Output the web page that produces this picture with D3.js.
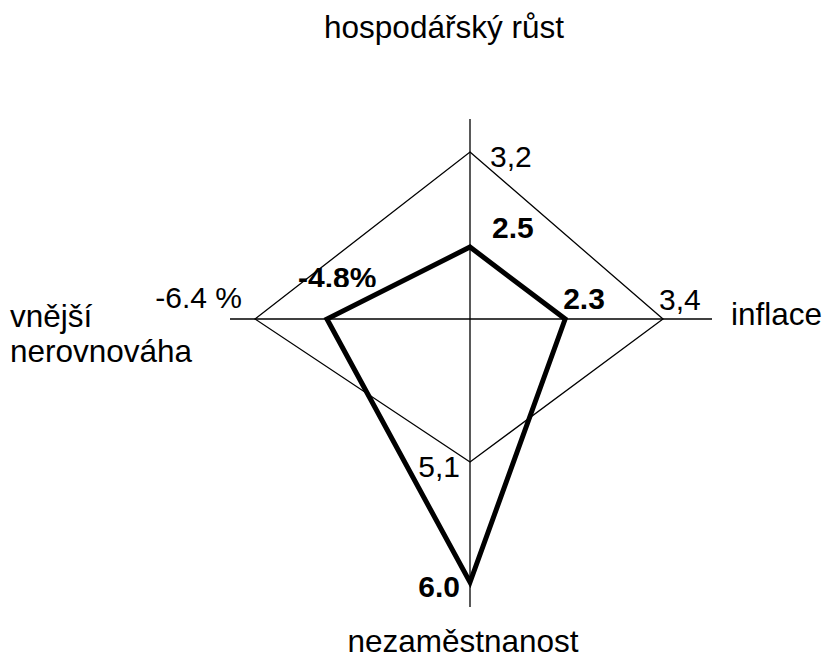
<!DOCTYPE html>
<html>
<head>
<meta charset="utf-8">
<script src="https://cdn.jsdelivr.net/npm/d3@7"></script>
<style>
  body { margin: 0; background: #fff; }
  text { font-family: "Liberation Sans", Arial, sans-serif; fill: #000; }
  .axis-title { font-size: 31.5px; }
  .ref-label { font-size: 30px; }
  .val-label { font-size: 30px; font-weight: bold; }
</style>
</head>
<body>
<div id="chart"></div>
<script>
// axes: growth (up), inflation (right), unemployment (down), external imbalance (left)
const axisKeys = ['growth', 'inflation', 'unemployment', 'external'];
const axisTitles = [['hospodářský růst'], ['inflace'], ['nezaměstnanost'], ['vnější', 'nerovnováha']];
const refValues = [3.2, 3.4, 5.1, -6.4];
const refLabels = ['3,2', '3,4', '5,1', '-6.4 %'];
const actualValues = [2.5, 2.3, 6.0, -4.8];
const actualLabels = ['2.5', '2.3', '6.0', '-4.8%'];
// value sitting at the centre of each axis (the square is not zero-based)
const axisOrigins = [1.97, 1.23, 4.03, -1.62];

class MagicSquare {

  constructor(_config) {
    this.config = {
      parentElement: _config.parentElement,
      containerWidth: _config.containerWidth || 824,
      containerHeight: _config.containerHeight || 668,
      center: {x: 470, y: 319},
      // pixel length of each axis at the reference value
      refRadius: [167, 193, 143, 215],
      axisExtent: {top: 200, right: 242, bottom: 288, left: 240}
    }
    this.initVis();
  }

  initVis() {
    let vis = this;
    const c = vis.config.center;

    vis.svg = d3.select(vis.config.parentElement).append('svg')
        .attr('width', vis.config.containerWidth)
        .attr('height', vis.config.containerHeight);

    // unit direction per axis
    vis.dirs = [[0, -1], [1, 0], [0, 1], [-1, 0]];

    vis.scales = axisKeys.map((k, i) => d3.scaleLinear()
        .domain([axisOrigins[i], refValues[i]])
        .range([0, vis.config.refRadius[i]]));

    vis.point = (i, v) => [c.x + vis.dirs[i][0] * vis.scales[i](v), c.y + vis.dirs[i][1] * vis.scales[i](v)];

    // cross lines
    const ext = vis.config.axisExtent;
    vis.svg.append('line')
        .attr('x1', c.x).attr('x2', c.x)
        .attr('y1', c.y - ext.top).attr('y2', c.y + ext.bottom)
        .attr('stroke', '#000').attr('stroke-width', 1.3);
    vis.svg.append('line')
        .attr('x1', c.x - ext.left).attr('x2', c.x + ext.right)
        .attr('y1', c.y).attr('y2', c.y)
        .attr('stroke', '#000').attr('stroke-width', 1.3);

    vis.line = d3.line().curve(d3.curveLinearClosed);

    // some labels are cut off at the bottom in the original
    const defs = vis.svg.append('defs');
    defs.append('clipPath').attr('id', 'clip-ref')
      .append('rect').attr('x', 0).attr('y', 0).attr('width', 824).attr('height', 308);
    defs.append('clipPath').attr('id', 'clip-val')
      .append('rect').attr('x', 0).attr('y', 0).attr('width', 824).attr('height', 287);

    vis.updateVis();
  }

  updateVis() {
    let vis = this;

    const refPts = refValues.map((v, i) => vis.point(i, v));
    const actPts = actualValues.map((v, i) => vis.point(i, v));

    vis.svg.append('path')
        .attr('d', vis.line(refPts))
        .attr('fill', 'none')
        .attr('stroke', '#000')
        .attr('stroke-width', 1.3);

    vis.svg.append('path')
        .attr('d', vis.line(actPts))
        .attr('fill', 'none')
        .attr('stroke', '#000')
        .attr('stroke-width', 5)
        .attr('stroke-linejoin', 'miter');

    // label offsets from the point: dx, dy, anchor
    const refOff = [[20, 15, 'start'], [-4, -9, 'start'], [-10, 15, 'end'], [-13, -11, 'end']];
    const valOff = [[22, -9, 'start'], [-2, -10, 'start'], [-10, 15, 'end'], [-29, -31, 'start']];

    vis.svg.selectAll('.ref-label')
        .data(refLabels)
      .join('text')
        .attr('class', 'ref-label')
        .attr('x', (d, i) => refPts[i][0] + refOff[i][0])
        .attr('y', (d, i) => refPts[i][1] + refOff[i][1])
        .attr('text-anchor', (d, i) => refOff[i][2])
        .attr('clip-path', (d, i) => i == 3 ? 'url(#clip-ref)' : null)
        .text(d => d);

    vis.svg.selectAll('.val-label')
        .data(actualLabels)
      .join('text')
        .attr('class', 'val-label')
        .attr('x', (d, i) => actPts[i][0] + valOff[i][0])
        .attr('y', (d, i) => actPts[i][1] + valOff[i][1])
        .attr('text-anchor', (d, i) => valOff[i][2])
        .attr('clip-path', (d, i) => i == 3 ? 'url(#clip-val)' : null)
        .text(d => d);

    // axis titles
    const titlePos = [[444, 38, 'middle'], [731, 325, 'start'], [463, 652, 'middle'], [10, 327, 'start']];
    axisTitles.forEach((lines, i) => {
      const t = vis.svg.append('text')
          .attr('class', 'axis-title')
          .attr('x', titlePos[i][0])
          .attr('y', titlePos[i][1])
          .attr('text-anchor', titlePos[i][2]);
      lines.forEach((l, j) => {
        t.append('tspan')
            .attr('x', titlePos[i][0])
            .attr('dy', j == 0 ? 0 : 35)
            .text(l);
      });
    });
  }
}

new MagicSquare({parentElement: '#chart'});
</script>
</body>
</html>
